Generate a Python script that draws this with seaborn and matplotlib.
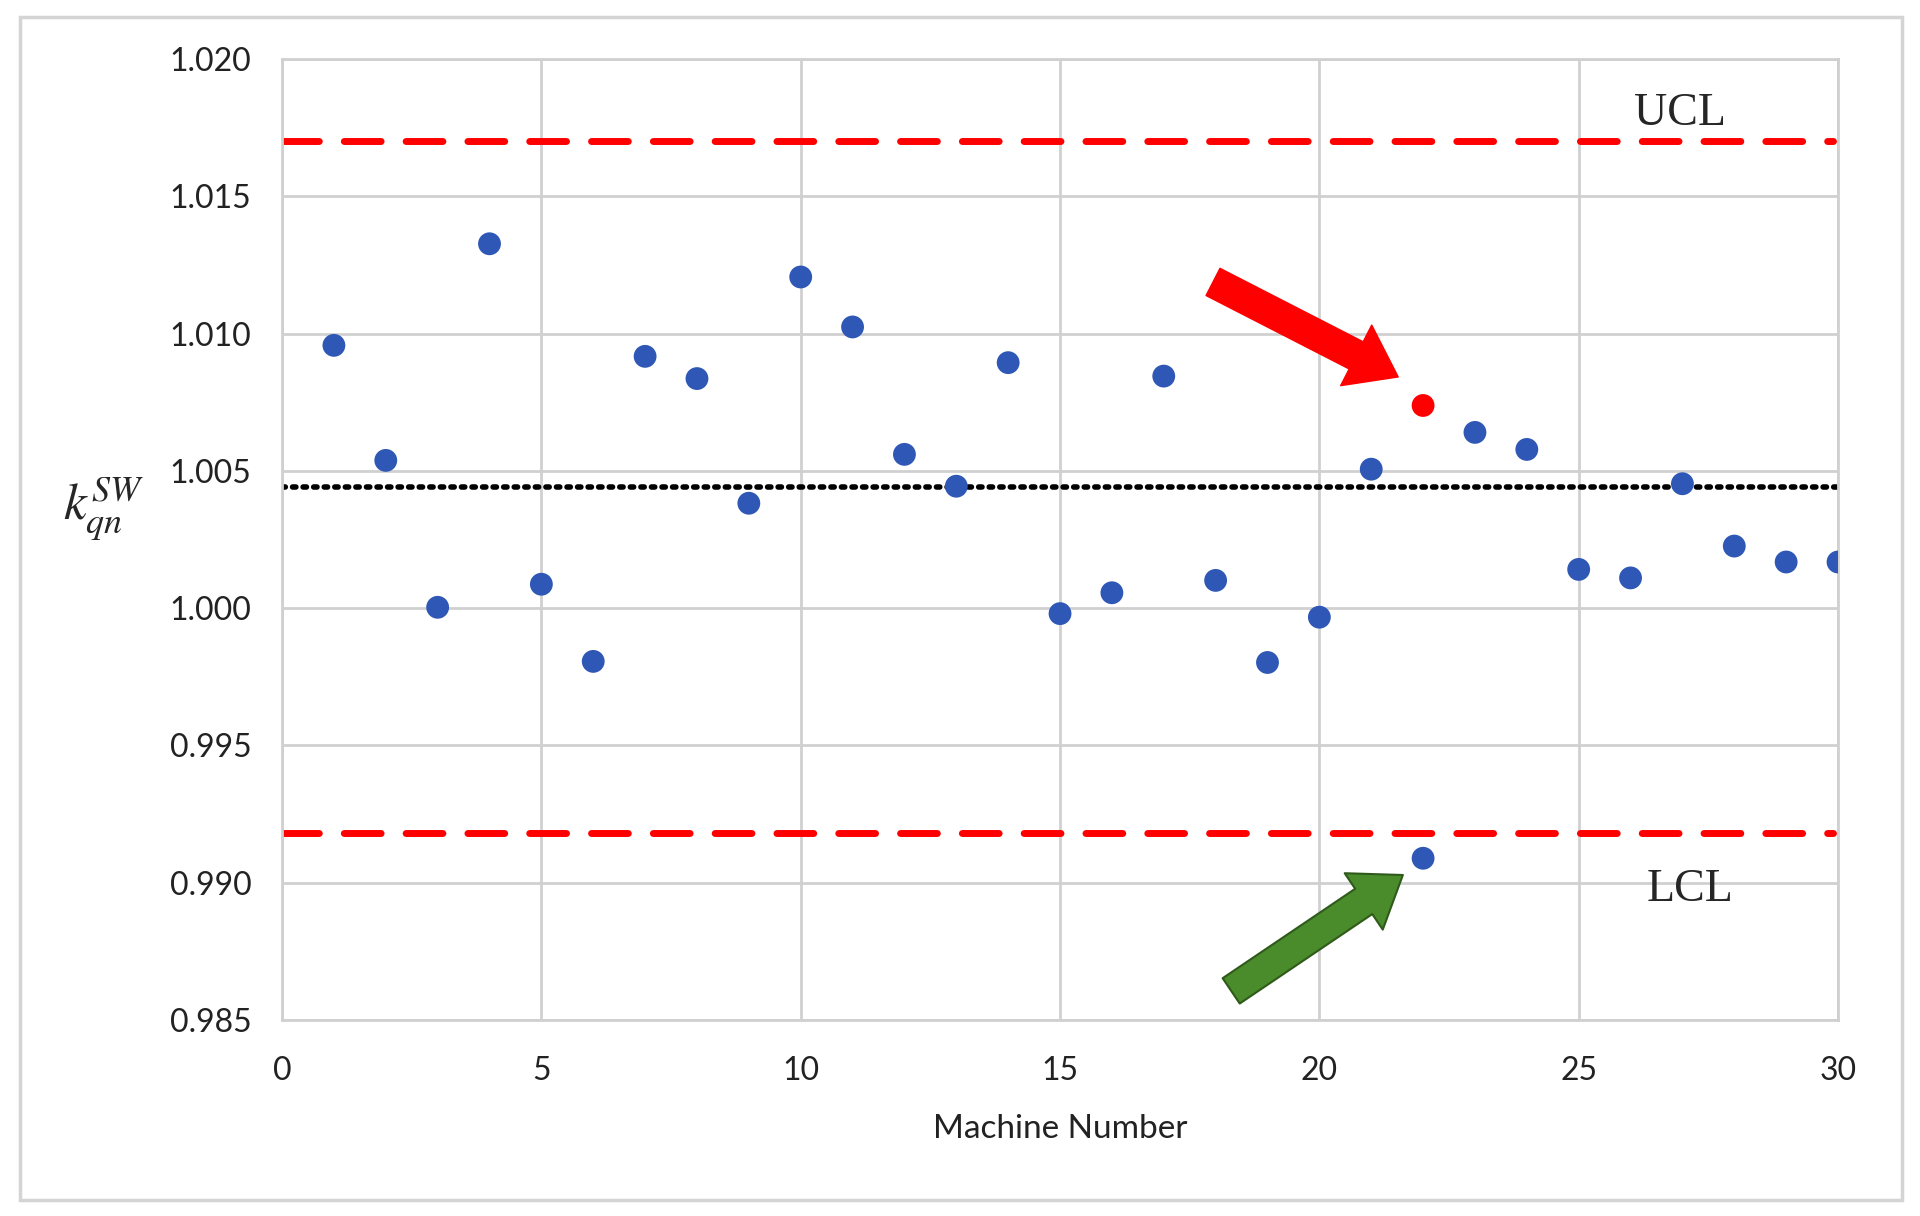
import numpy as np
import pandas as pd
import matplotlib
matplotlib.use("Agg")
import matplotlib.pyplot as plt
from matplotlib.patches import Rectangle
import seaborn as sns

# --- data ---
machine = list(range(1, 31)) + [22]
k_value = [1.00957, 1.00538, 1.00003, 1.01327, 1.00087, 0.99806, 1.00917, 1.00836,
           1.00382, 1.01206, 1.01024, 1.00560, 1.00444, 1.00894, 0.99980, 1.00056,
           1.00845, 1.00101, 0.99802, 0.99967, 1.00506, 1.00738, 1.00640, 1.00578,
           1.00141, 1.00110, 1.00453, 1.00226, 1.00168, 1.00168, 0.99089]
flag = ["normal"] * 21 + ["shift"] + ["normal"] * 9
ucl = 1.0170
lcl = 0.9918
center = 1.0044
x_ticks = [0, 5, 10, 15, 20, 25, 30]
y_ticks = [0.985, 0.990, 0.995, 1.000, 1.005, 1.010, 1.015, 1.020]

df = pd.DataFrame({"Machine": machine, "k": k_value, "flag": flag})

sns.set_style("white")
plt.rcParams["font.family"] = ["Lato", "DejaVu Sans"]
plt.rcParams["mathtext.fontset"] = "stix"

fig = plt.figure(figsize=(19.2, 12.16), dpi=100)
ax = fig.add_axes([0.1469, 0.1612, 0.9573 - 0.1469, 0.9515 - 0.1612])

# outer frame of the picture
fig.patches.append(Rectangle((20 / 1920, 1 - 1200 / 1216), 1882 / 1920, 1183 / 1216,
                             transform=fig.transFigure, fill=False,
                             edgecolor="#d4d4d4", linewidth=2.5))

ax.axhline(ucl, xmin=0, xmax=0.997, color="#ff0000", linewidth=5,
           linestyle=(0, (5.3, 3.6)), dash_capstyle="round", zorder=2)
ax.axhline(lcl, xmin=0, xmax=0.997, color="#ff0000", linewidth=5,
           linestyle=(0, (5.3, 3.6)), dash_capstyle="round", zorder=2)
ax.axhline(center, color="black", linewidth=4, linestyle=(0, (0.6, 1.3)),
           dash_capstyle="round", zorder=2)

sns.scatterplot(data=df, x="Machine", y="k", hue="flag",
                palette={"normal": "#2f57b5", "shift": "#ff0000"},
                s=270, edgecolor="none", legend=False, ax=ax, zorder=3)

# arrows pointing at the highlighted machine
ax.annotate("", xy=(21.52, 1.00842), xytext=(17.95, 1.01188),
            arrowprops=dict(arrowstyle="simple,head_length=1.7,head_width=2.45,tail_width=1.1",
                            fc="#ff0000", ec="#ff0000", mutation_scale=20,
                            shrinkA=0, shrinkB=0), zorder=4)
ax.annotate("", xy=(21.61, 0.99028), xytext=(18.30, 0.98606),
            arrowprops=dict(arrowstyle="simple,head_length=1.7,head_width=2.45,tail_width=1.1",
                            fc="#4a8c2c", ec="#2f5a1a", lw=1.5, mutation_scale=20,
                            shrinkA=0, shrinkB=0), zorder=4)

ax.text(26.95, 1.0180, "UCL", family="Liberation Serif", fontsize=33,
        ha="center", va="center")
ax.text(27.14, 0.98973, "LCL", family="Liberation Serif", fontsize=33,
        ha="center", va="center")

ax.set_xlim(0, 30)
ax.set_ylim(0.985, 1.020)
ax.set_xticks(x_ticks)
ax.set_yticks(y_ticks)
ax.set_yticklabels([f"{v:.3f}" for v in y_ticks])
ax.tick_params(axis="both", labelsize=23, length=0, colors="#222222")
ax.tick_params(axis="x", pad=26)
ax.tick_params(axis="y", pad=22)
ax.grid(True, color="#d0d0d0", linewidth=2)
ax.set_axisbelow(True)
for sp in ax.spines.values():
    sp.set_color("#d0d0d0")
    sp.set_linewidth(2)

ax.set_xlabel("Machine Number", fontsize=24, color="#222222", labelpad=20)
ax.set_ylabel("")
fig.text(104 / 1920, 1 - 508 / 1216, r"$k_{qn}^{SW}$", fontsize=37,
         ha="center", va="center")

fig.savefig("out.png", dpi=100)
